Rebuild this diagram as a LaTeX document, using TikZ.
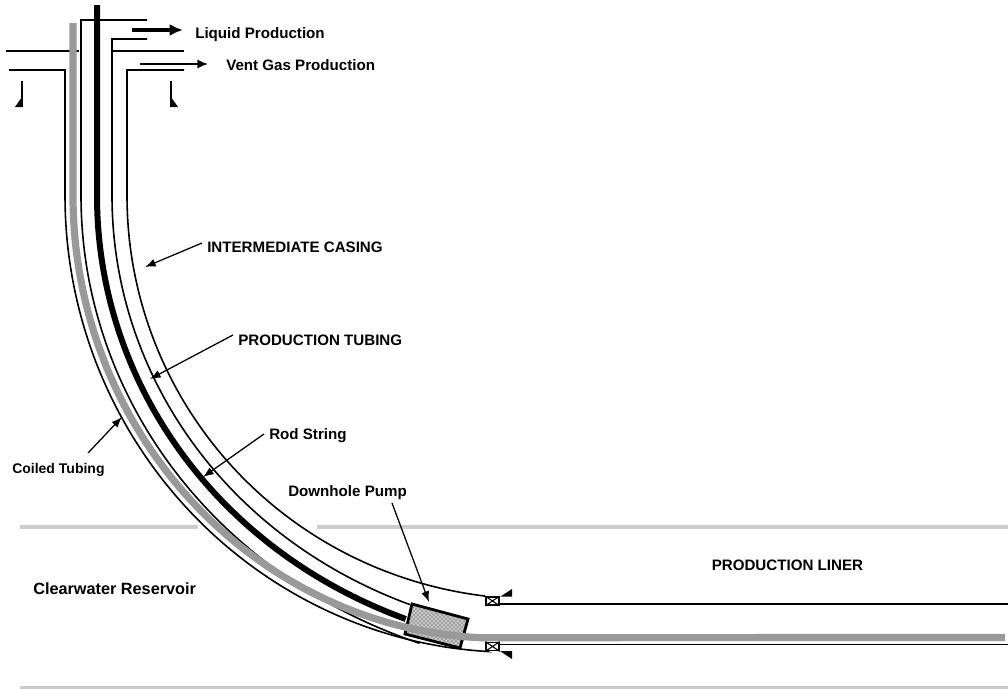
\documentclass[tikz,border=0pt]{standalone}
\usepackage{fontspec}
\setmainfont{Liberation Sans}
\usetikzlibrary{arrows.meta,patterns}
% #1 style, #2 path before, #3 base radius, #4 growth, #5 end angle, #6 path after
\newcommand{\wellcurve}[6]{\draw[#1] #2 -- plot[domain=180:#5,samples=70,variable=\a,smooth] ({527+(#3+(#4)*((180-\a)/90)^4)*cos(\a)},{196+(#3+(#4)*((180-\a)/90)^4)*sin(\a)}) #6;}
\definecolor{coilgray}{gray}{0.6}
\definecolor{stratumgray}{gray}{0.8}
\tikzset{
  wall/.style={line width=1.2pt,black},
  rodline/.style={line width=4.5pt,black},
  coil/.style={line width=5.4pt,color=coilgray},
  stratum/.style={line width=3.4pt,color=stratumgray},
  lead/.style={line width=0.95pt,-{Latex[length=8pt,width=6pt]}},
  lbl/.style={inner sep=1.5pt,anchor=west,font=\fontsize{11.35}{13}\bfseries},
  packer/.style={draw,line width=1.3pt,fill=white,minimum width=9.5pt,minimum height=6pt,inner sep=0pt},
}
\begin{document}
\begin{tikzpicture}[x=0.75pt,y=-0.75pt]
\useasboundingbox (0,0) rectangle (1008,689);
% strata
\draw[stratum] (20,527) -- (198,527);
\draw[stratum] (317,527) -- (1008,527);
\draw[stratum] (20,688) -- (1008,688);
% tubulars
\draw[wall] (6,51) -- (79,51);
\draw[wall] (112,51) -- (184,51);
\wellcurve{wall}{(9,70) -- (65,70)}{462}{-6}{95}{-- (486,651)}
\wellcurve{wall}{(147,20) -- (81,20)}{446}{27}{103.5}{}
\wellcurve{wall}{(147,39) -- (112,39)}{415}{22}{106}{}
\wellcurve{wall}{(184,70) -- (127,70)}{400}{3}{96}{}
\wellcurve{rodline}{(97,5)}{430}{22}{106}{}
% pump
\coordinate (pa) at (412,604);
\coordinate (pb) at (468,619);
\coordinate (pc) at (460,648);
\coordinate (pd) at (405,634);
\fill[black!22] (pa) -- (pb) -- (pc) -- (pd) -- cycle;
\fill[pattern=crosshatch dots,pattern color=black!85] (pa) -- (pb) -- (pc) -- (pd) -- cycle;
\draw[line width=2.1pt] (pa) -- (pb) -- (pc) -- (pd) -- cycle;
% coiled tubing
\wellcurve{coil}{(73,23)}{454}{-13}{96}{-- (1005,637.5)}
% liner
\draw[line width=1.3pt] (498,604) -- (1008,604);
\draw[line width=1.3pt] (498,644.5) -- (1008,644.5);
% packers
\node[packer] (pkU) at (492.5,601) {};
\node[packer] (pkL) at (492.5,646.5) {};
\draw[line width=0.8pt] (pkU.north west) -- (pkU.south east) (pkU.north east) -- (pkU.south west);
\draw[line width=0.8pt] (pkL.north west) -- (pkL.south east) (pkL.north east) -- (pkL.south west);
\fill (500.5,596.5) -- (512,596.5) -- (512,589) -- cycle;
\fill (500,651) -- (512,651) -- (512,659) -- cycle;
% wellhead hangers
\draw[line width=1pt] (22,81) -- (22,107);
\fill (15,107) -- (22,107) -- (22,97) -- cycle;
\draw[line width=1pt] (171,81) -- (171,107);
\fill (171,97) -- (171,107) -- (178,107) -- cycle;
% labels
\node[lbl] (liq) at (193,34.5) {Liquid Production};
\node[lbl] (vent) at (224,65) {Vent Gas Production};
\node[lbl] (ic) at (205,247) {INTERMEDIATE CASING};
\node[lbl] (pt) at (236,340) {PRODUCTION TUBING};
\node[lbl] (rs) at (267,435.5) {Rod String};
\node[lbl,font=\fontsize{10.5}{12}\bfseries] (ct) at (10,469.5) {Coiled Tubing};
\node[lbl] (dp) at (286,492.5) {Downhole Pump};
\node[lbl,font=\fontsize{12.2}{14}\bfseries] (cr) at (31,588.5) {Clearwater Reservoir};
\node[lbl] (pl) at (709.5,565.5) {PRODUCTION LINER};
% flow arrows
\coordinate (liqS) at (132,30);
\coordinate (ventS) at (140,64);
\coordinate (liqT) at (183,30);
\coordinate (ventT) at (208,64);
\draw[line width=2.4pt,-{Latex[length=10pt,width=9pt]}] (liqS) -- (liqT);
\draw[line width=1.3pt,-{Latex[length=8pt,width=7pt]}] (ventS) -- (ventT);
% leaders
\coordinate (icT) at (145,267);
\coordinate (ptT) at (150,379);
\coordinate (rsT) at (203,477);
\coordinate (ctT) at (122,417);
\coordinate (ctS) at (88,453);
\coordinate (dpT) at (429,602);
\coordinate (dpS) at (392,503);
\coordinate (icS) at (202,243);
\coordinate (ptS) at (233,335);
\coordinate (rsS) at (264,434);
\draw[lead] (icS) -- (icT);
\draw[lead] (ptS) -- (ptT);
\draw[lead] (rsS) -- (rsT);
\draw[lead] (ctS) -- (ctT);
\draw[lead] (dpS) -- (dpT);
\end{tikzpicture}
\end{document}
